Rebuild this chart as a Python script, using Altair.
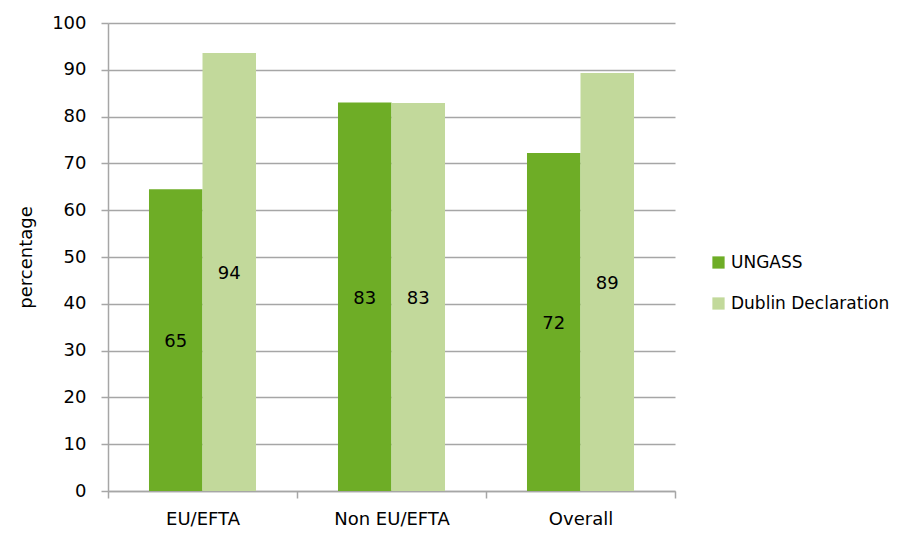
import altair as alt
import pandas as pd

categories = ["EU/EFTA", "Non EU/EFTA", "Overall"]
series = ["UNGASS", "Dublin Declaration"]
ungass = [64.5, 83.0, 72.2]
dublin = [93.6, 82.9, 89.3]
ungass_labels = ["65", "83", "72"]
dublin_labels = ["94", "83", "89"]

rows = []
for i, c in enumerate(categories):
    rows.append({"cat": c, "series": series[0], "value": ungass[i], "label": ungass_labels[i]})
    rows.append({"cat": c, "series": series[1], "value": dublin[i], "label": dublin_labels[i]})
df = pd.DataFrame(rows)

FONT = "DejaVu Sans"
FS = 18
GRID = "#A6A6A6"

x = alt.X("cat:N", sort=categories, title=None,
          scale=alt.Scale(paddingInner=0, paddingOuter=0),
          axis=alt.Axis(tickBand="extent", labelAngle=0, tickSize=7, labelPadding=12,
                        labelFontSize=FS, labelFont=FONT, labelColor="#000000",
                        domainColor=GRID, tickColor=GRID, domainWidth=1.5, tickWidth=1.5))
xoff = alt.XOffset("series:N", sort=series, scale=alt.Scale(paddingInner=0, paddingOuter=0.766))

bars = alt.Chart(df).mark_bar().encode(
    x=x,
    xOffset=xoff,
    y=alt.Y("value:Q", title="percentage",
            scale=alt.Scale(domain=[0, 100], nice=False),
            axis=alt.Axis(values=list(range(0, 101, 10)), tickSize=7, labelPadding=15,
                          labelFontSize=FS, labelFont=FONT, labelColor="#000000",
                          titleFont=FONT, titleFontSize=FS, titleFontWeight="normal",
                          titleColor="#000000", titlePadding=16,
                          domainColor=GRID, tickColor=GRID, gridColor=GRID,
                          domainWidth=1.5, tickWidth=1.5, gridWidth=1.5)),
    color=alt.Color("series:N", sort=series,
                    scale=alt.Scale(domain=series, range=["#6EAD26", "#C2D99B"]),
                    legend=alt.Legend(title=None, orient="none", legendX=602, legendY=231,
                                      symbolType="square", symbolSize=150, symbolStrokeWidth=0,
                                      labelFont=FONT, labelFontSize=17, labelColor="#000000",
                                      labelLimit=300, rowPadding=23, labelOffset=4)),
)

text = alt.Chart(df).mark_text(font=FONT, fontSize=FS, color="#000000", dy=2).encode(
    x=x,
    xOffset=xoff,
    y=alt.Y("mid:Q"),
    text="label:N",
).transform_calculate(mid="datum.value / 2")

chart = alt.layer(bars, text).properties(
    width=567, height=468,
    autosize=alt.AutoSizeParams(type="none"),
    padding={"left": 100, "top": 15, "right": 222, "bottom": 37},
).configure_view(stroke=None).configure_axis(grid=True).configure_axisX(grid=False)

chart.save("out.html", embed_options={"renderer": "svg", "actions": False})
